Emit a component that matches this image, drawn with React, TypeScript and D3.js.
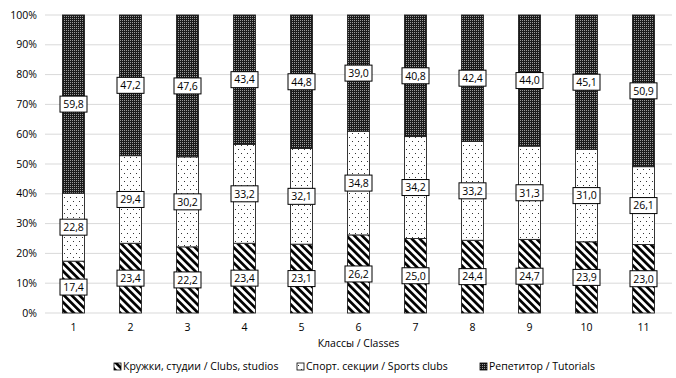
import React from "react";
import * as d3 from "d3";

const classes = ["1", "2", "3", "4", "5", "6", "7", "8", "9", "10", "11"];
const clubs = [17.4, 23.4, 22.2, 23.4, 23.1, 26.2, 25.0, 24.4, 24.7, 23.9, 23.0];
const sports = [22.8, 29.4, 30.2, 33.2, 32.1, 34.8, 34.2, 33.2, 31.3, 31.0, 26.1];
const tutors = [59.8, 47.2, 47.6, 43.4, 44.8, 39.0, 40.8, 42.4, 44.0, 45.1, 50.9];
const seriesNames = ["Кружки, студии / Clubs, studios", "Спорт. секции / Sports clubs", "Репетитор / Tutorials"];
const yTicks = [0, 10, 20, 30, 40, 50, 60, 70, 80, 90, 100];

const W = 676, H = 378;
const M = { left: 45, right: 4, top: 15, bottom: 65 };
const FONT = "'Open Sans', 'Liberation Sans', sans-serif";

export default function App() {
  const x = d3.scaleBand<string>().domain(classes).range([M.left, W - M.right]).paddingInner(0.615).paddingOuter(0.3075);
  const y = d3.scaleLinear().domain([0, 100]).range([H - M.bottom, M.top]);
  const data = classes.map((c, i) => ({ c, clubs: clubs[i], sports: sports[i], tutors: tutors[i] }));
  const stack = d3.stack<any>().keys(["clubs", "sports", "tutors"]).offset(d3.stackOffsetExpand);
  const series = stack(data);
  const fills = ["url(#hatch)", "url(#dots)", "url(#dark)"];
  const bw = x.bandwidth();
  const legendX = [114, 297, 480];

  return (
    <svg width={W} height={H} style={{ position: "absolute", left: 0, top: 0, background: "#fff" }} fontFamily={FONT}>
      <defs>
        <pattern id="hatch" patternUnits="userSpaceOnUse" width="5.5" height="6" patternTransform="rotate(-45)">
          <rect width="5.5" height="6" fill="#fff" />
          <rect x="0" y="0" width="2.7" height="6" fill="#000" />
        </pattern>
        <pattern id="dots" patternUnits="userSpaceOnUse" width="6" height="8">
          <rect width="6" height="8" fill="#fff" />
          <rect x="1" y="1" width="1" height="1" fill="#333" />
          <rect x="4" y="5" width="1" height="1" fill="#333" />
        </pattern>
        <pattern id="dark" patternUnits="userSpaceOnUse" width="2" height="2">
          <rect width="2" height="2" fill="#1a1a1a" />
          <rect x="0" y="0" width="1" height="1" fill="#9a9a9a" />
        </pattern>
      </defs>
      {yTicks.map((t) => (
        <g key={t}>
          <line x1={M.left} x2={W - M.right} y1={y(t)} y2={y(t)} stroke="#d9d9d9" strokeWidth={1} />
          <text x={37} y={y(t)} dy="0.35em" textAnchor="end" fontSize={10.5} fill="#000">{t}%</text>
        </g>
      ))}
      {series.map((s, si) => (
        <g key={si}>
          {s.map((d, i) => (
            <rect key={i} x={x(classes[i])} width={bw} y={y(d[1] * 100)} height={y(d[0] * 100) - y(d[1] * 100)}
              fill={fills[si]} stroke="#222" strokeWidth={0.9} />
          ))}
        </g>
      ))}
      {series.map((s, si) => (
        <g key={"l" + si}>
          {s.map((d, i) => {
            const cx = (x(classes[i]) as number) + bw / 2;
            const cy = y(((d[0] + d[1]) / 2) * 100);
            const v = [clubs, sports, tutors][si][i];
            return (
              <g key={i}>
                <rect x={cx - 13.5} y={cy - 8} width={27} height={16} fill="#fff" stroke="#000" strokeWidth={1} />
                <text x={cx} y={cy} dy="0.36em" textAnchor="middle" fontSize={10.5} fill="#000">{v.toFixed(1).replace(".", ",")}</text>
              </g>
            );
          })}
        </g>
      ))}
      {classes.map((c) => (
        <text key={c} x={(x(c) as number) + bw / 2} y={331} textAnchor="middle" fontSize={10.5}>{c}</text>
      ))}
      <text x={(M.left + W - M.right) / 2} y={347} textAnchor="middle" fontSize={10.5}>Классы / Classes</text>
      {seriesNames.map((n, i) => (
        <g key={n}>
          <rect x={legendX[i]} y={363} width={7} height={7} fill={fills[i]} stroke="#000" strokeWidth={0.8} />
          <text x={legendX[i] + 9} y={370} fontSize={10.5}>{n}</text>
        </g>
      ))}
    </svg>
  );
}
